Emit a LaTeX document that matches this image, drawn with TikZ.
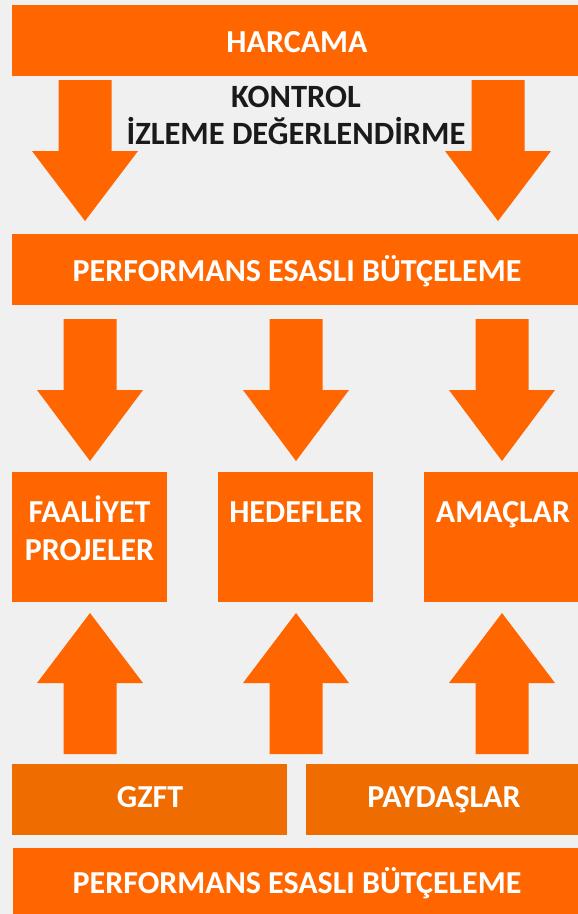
\documentclass[tikz,border=0pt]{standalone}
\usepackage{fontspec}
\setmainfont{Carlito}
\definecolor{bg}{HTML}{F0F0F0}
\definecolor{org}{HTML}{FF6600}
\definecolor{orgd}{HTML}{EE6C00}
\definecolor{ink}{HTML}{1A1A1A}
\newcommand\pebdown[5]{% cx, ytop, yneck, ytip, name
  \fill[org] ({#1-26.5},#2) -- ({#1+26.5},#2) -- ({#1+26.5},#3) -- ({#1+53},#3) -- (#1,#4) -- ({#1-53},#3) -- ({#1-26.5},#3) -- cycle;
  \coordinate (#5) at (#1,#4);}
\newcommand\pebup[5]{% cx, ybottom, yneck, ytip, name
  \fill[org] ({#1-26.5},#2) -- ({#1+26.5},#2) -- ({#1+26.5},#3) -- ({#1+53},#3) -- (#1,#4) -- ({#1-53},#3) -- ({#1-26.5},#3) -- cycle;
  \coordinate (#5) at (#1,#4);}
\begin{document}
\begin{tikzpicture}[x=1pt,y=-1pt,
  box/.style={fill=org, draw=none, inner sep=0pt, anchor=north west},
  boxd/.style={fill=orgd, draw=none, inner sep=0pt, anchor=north west},
  wtxt/.style={text=white, font=\fontsize{32}{38}\selectfont\bfseries, anchor=base, inner sep=0pt},
  btxt/.style={text=ink, font=\fontsize{32.5}{38}\selectfont\bfseries, anchor=base, inner sep=0pt}]
\fill[bg] (0,0) rectangle (578,914);
\useasboundingbox (0,0) rectangle (578,914);
% boxes
\node[box, minimum width=566pt, minimum height=71pt] (harcama) at (12,5) {};
\node[box, minimum width=566pt, minimum height=71pt] (peb1) at (12,234) {};
\node[box, minimum width=155pt, minimum height=130pt] (faal) at (12,472) {};
\node[box, minimum width=155pt, minimum height=130pt] (hedef) at (218,472) {};
\node[box, minimum width=154pt, minimum height=130pt] (amac) at (424,472) {};
\node[boxd, minimum width=275pt, minimum height=71pt] (gzft) at (12,764) {};
\node[boxd, minimum width=272pt, minimum height=71pt] (payd) at (306,764) {};
\node[box, minimum width=565pt, minimum height=66pt] (peb2) at (13,848) {};
% arrows
\pebdown{85}{80}{151}{221}{a1}
\pebdown{498}{80}{151}{221}{a2}
\pebdown{90}{319}{390}{461}{a3}
\pebdown{296}{319}{390}{461}{a4}
\pebdown{502}{319}{390}{461}{a5}
\pebup{90}{754}{683}{613}{a6}
\pebup{296}{754}{683}{613}{a7}
\pebup{502}{754}{683}{613}{a8}
% texts
\node[wtxt] (t1) at (297,52) {HARCAMA};
\node[btxt] (t2) at (296,107) {KONTROL};
\node[btxt] (t3) at (296,144) {İZLEME DEĞERLENDİRME};
\node[wtxt] (t4) at (297,281) {PERFORMANS ESASLI BÜTÇELEME};
\node[wtxt] (t5) at (89.5,522) {FAALİYET};
\node[wtxt] (t6) at (89.5,560) {PROJELER};
\node[wtxt] (t7) at (296,522) {HEDEFLER};
\node[wtxt] (t8) at (503,522) {AMAÇLAR};
\node[wtxt] (t9) at (150,807) {GZFT};
\node[wtxt] (t10) at (444,807) {PAYDAŞLAR};
\node[wtxt] (t11) at (297,893) {PERFORMANS ESASLI BÜTÇELEME};
\end{tikzpicture}
\end{document}
